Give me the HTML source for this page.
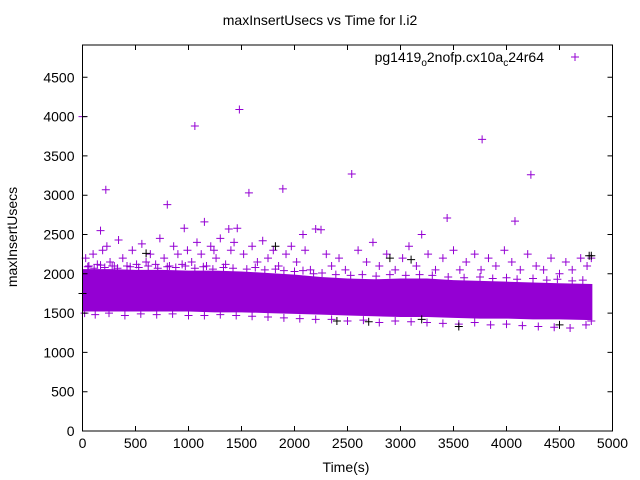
<!DOCTYPE html>
<html><head><meta charset="utf-8"><style>
body{margin:0;background:#fff}
svg{display:block;font-family:"Liberation Sans",sans-serif}
</style></head><body>
<svg id="chart" width="640" height="480" viewBox="0 0 640 480">
<rect width="640" height="480" fill="#fff"/>
<text x="320" y="25" text-anchor="middle" font-size="14">maxInsertUsecs vs Time for l.i2</text>
<text transform="translate(17,237) rotate(-90)" text-anchor="middle" font-size="14">maxInsertUsecs</text>
<text x="346" y="472" text-anchor="middle" font-size="14">Time(s)</text>
<g id="marks"></g>
<g id="axes"></g>
<g>
<text x="544" y="62" text-anchor="end" font-size="14">pg1419<tspan font-size="10" dy="4">o</tspan><tspan dy="-4">2nofp.cx10a</tspan><tspan font-size="10" dy="4">c</tspan><tspan dy="-4">24r64</tspan></text>
<path d="M571 57h8M575 53v8" stroke="#9400d3" stroke-width="1"/>
</g>
</svg>
<script>
const xTicks=[0,500,1000,1500,2000,2500,3000,3500,4000,4500,5000];
const yTicks=[0,500,1000,1500,2000,2500,3000,3500,4000,4500];
const bandTimes=[0,250,500,750,1000,1250,1500,1750,2000,2250,2500,2750,3000,3250,3500,3750,4000,4250,4500,4810];
const bandLow=[1520,1520,1520,1520,1520,1510,1510,1500,1490,1480,1470,1460,1450,1450,1440,1430,1430,1420,1420,1410];
const bandHigh=[2060,2060,2050,2050,2040,2040,2030,2010,1990,1960,1940,1930,1940,1940,1920,1910,1900,1890,1880,1870];
const outlierPoints=[[0,4000],[220,3070],[800,2880],[1060,3880],[1480,4090],[1570,3030],[1890,3080],[2540,3270],[3440,2710],[3770,3710],[4080,2670],[4230,3260],[1150,2660],[2200,2570],[2250,2560],[3200,2500],[2080,2500],[960,2580],[1380,2570],[1460,2580],[1240,2300],[170,2550]];
const upperPoints=[[30,2200],[60,2100],[100,2250],[140,2120],[190,2300],[230,2350],[260,2150],[300,2100],[340,2430],[380,2200],[420,2100],[470,2300],[510,2120],[560,2380],[600,2150],[640,2250],[690,2120],[730,2450],[770,2200],[820,2100],[860,2350],[900,2250],[940,2120],[990,2300],[1030,2150],[1080,2400],[1120,2250],[1170,2100],[1210,2350],[1260,2200],[1300,2450],[1350,2120],[1400,2300],[1430,2400],[1520,2250],[1600,2350],[1650,2150],[1700,2420],[1750,2200],[1800,2300],[1850,2100],[1920,2250],[1970,2350],[2020,2150],[2100,2300],[2150,2050],[2300,2250],[2350,2100],[2420,2200],[2480,2050],[2600,2300],[2680,2150],[2740,2400],[2800,2100],[2870,2250],[2950,2050],[3020,2200],[3080,2350],[3150,2100],[3260,2250],[3330,2050],[3400,2200],[3500,2300],[3560,2050],[3620,2150],[3700,2250],[3760,2050],[3830,2200],[3900,2100],[3980,2300],[4050,2150],[4130,2050],[4200,2250],[4280,2100],[4350,2050],[4420,2200],[4500,2000],[4560,2150],[4620,2050],[4700,2200],[4760,2100],[4800,2200]];
const edgePoints=[[50,2090],[110,2070],[170,2110],[210,2080],[280,2100],[330,2070],[450,2090],[530,2080],[620,2100],[710,2070],[800,2090],[880,2080],[970,2100],[1060,2070],[1140,2090],[1230,2060],[1330,2080],[1420,2070],[1550,2060],[1630,2080],[1720,2050],[1820,2060],[1900,2040],[2000,2030],[2080,2040],[2180,2000],[2260,2010],[2390,1990],[2530,1980],[2640,1990],[2770,1970],[2900,1990],[3050,1980],[3180,1990],[3300,1980],[3450,1960],[3600,1950],[3750,1960],[3870,1940],[4000,1950],[4100,1930],[4250,1940],[4380,1920],[4480,1930],[4620,1910],[4720,1920]];
const lowerPoints=[[20,1500],[120,1480],[250,1500],[400,1470],[550,1490],[700,1480],[850,1490],[1000,1470],[1150,1470],[1300,1480],[1450,1470],[1600,1460],[1750,1450],[1900,1440],[2050,1430],[2200,1420],[2350,1420],[2500,1400],[2650,1410],[2800,1380],[2950,1400],[3100,1390],[3250,1380],[3400,1370],[3550,1360],[3700,1380],[3850,1350],[4000,1360],[4150,1340],[4300,1330],[4450,1320],[4600,1310],[4750,1350],[4800,1400]];
const blackPoints=[[2400,1400],[2700,1390],[3200,1420],[3550,1330],[2900,2200],[3100,2180],[4500,1350],[1820,2350],[600,2260],[0,1750],[4800,2230],[4780,2230]];

const NS="http://www.w3.org/2000/svg";
const L=82.5,R=612.5,B=431,T=45;
function X(t){return L+t*(R-L)/5000;}
function Y(v){return B-v*0.0786;}
const marks=document.getElementById('marks'),axes=document.getElementById('axes');
function mk(tag,attrs,parent){const e=document.createElementNS(NS,tag);for(const k in attrs)e.setAttribute(k,attrs[k]);parent.appendChild(e);return e;}

let pts=[];
for(let i=0;i<bandTimes.length;i++)pts.push(X(bandTimes[i])+','+Y(bandHigh[i]));
for(let i=bandTimes.length-1;i>=0;i--)pts.push(X(bandTimes[i])+','+Y(bandLow[i]));
const band=mk('polygon',{points:pts.join(' '),fill:'#9400d3'},marks);



function cross(p,color,name){
  const x=X(p[0]),y=Y(p[1]);
  const e=mk('path',{d:`M${x-4} ${y}h8M${x} ${y-4}v8`,stroke:color,'stroke-width':1,fill:'none'},marks);
  
  
}
edgePoints.forEach(p=>cross(p,'#9400d3','data-point'));
upperPoints.forEach(p=>cross(p,'#9400d3','data-point'));
lowerPoints.forEach(p=>cross(p,'#9400d3','data-point'));
outlierPoints.forEach(p=>cross(p,'#9400d3','outlier-point'));
blackPoints.forEach(p=>cross(p,'#000','secondary-point'));

const frame=mk('rect',{x:L,y:T,width:R-L,height:B-T,fill:'none',stroke:'#000','stroke-width':1},axes);


xTicks.forEach(t=>{
  const x=X(t);
  const tk=mk('path',{d:`M${x} ${B}v-5M${x} ${T}v5`,stroke:'#000'},axes);
  
  
  const lb=mk('text',{x:x,y:B+17,'text-anchor':'middle','font-size':14},axes);
  lb.textContent=t;
  
  
});
yTicks.forEach(v=>{
  const y=Y(v);
  const tk=mk('path',{d:`M${L} ${y}h5M${R} ${y}h-5`,stroke:'#000'},axes);
  
  
  const lb=mk('text',{x:L-8,y:y+5,'text-anchor':'end','font-size':14},axes);
  lb.textContent=v;
  
  
});
</script>
</body></html>
